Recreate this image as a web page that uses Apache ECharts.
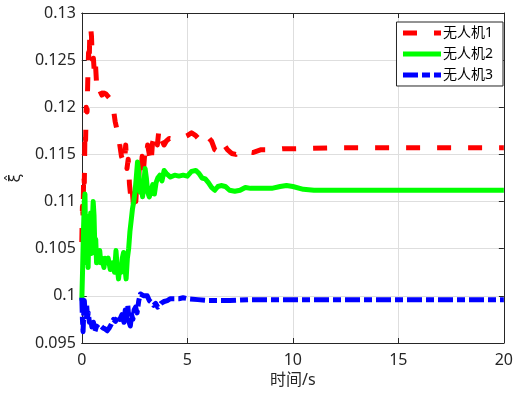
<!DOCTYPE html>
<html>
<head>
<meta charset="utf-8">
<script src="https://cdn.jsdelivr.net/npm/echarts@6/dist/echarts.min.js"></script>
<style>
  html, body { margin: 0; padding: 0; background: #fff; }
  #main { width: 516px; height: 396px; }
</style>
</head>
<body>
<div id="main"></div>
<script>
// 时间轴 / 各无人机的估计值（读图得到）
var names = ['无人机1', '无人机2', '无人机3'];
var colors = ['#ff0000', '#00ff00', '#0000ff'];
var xTicks = [0, 5, 10, 15, 20];

var t1 = [0, 0.03, 0.06, 0.09, 0.12, 0.15, 0.18, 0.21, 0.25, 0.29, 0.32, 0.35, 0.38, 0.42, 0.46, 0.5, 0.55, 0.6, 0.65, 0.7,
  0.75, 0.85, 0.95, 1.05, 1.15, 1.3, 1.4, 1.5, 1.58, 1.65, 1.72, 1.8, 1.88, 1.95, 2.02, 2.08, 2.14, 2.2, 2.26, 2.32,
  2.38, 2.44, 2.5, 2.56, 2.62, 2.68, 2.74, 2.8, 2.86, 2.92, 2.98, 3.05, 3.12, 3.2, 3.28, 3.35, 3.42, 3.5, 3.58, 3.66,
  3.74, 3.82, 3.9, 4, 4.15, 4.35, 4.55, 4.8, 5, 5.2, 5.4, 5.6, 5.8, 6, 6.15, 6.3, 6.45, 6.6, 6.75, 6.9,
  7.1, 7.3, 7.5, 7.8, 8.1, 8.5, 9, 9.5, 10, 12, 15, 20];
var v1 = [0.1057, 0.1095, 0.1085, 0.1130, 0.1120, 0.1175, 0.1165, 0.1200, 0.1195, 0.1235, 0.1258, 0.1245, 0.1280, 0.1285, 0.1275, 0.1248, 0.1252, 0.1235, 0.1245, 0.1225,
  0.1215, 0.1218, 0.1213, 0.1215, 0.1214, 0.1210, 0.1205, 0.1198, 0.1185, 0.1178, 0.1175, 0.1160, 0.1148, 0.1150, 0.1140, 0.1160, 0.1135, 0.1145, 0.1118, 0.1105,
  0.1115, 0.1098, 0.1110, 0.1100, 0.1125, 0.1120, 0.1140, 0.1130, 0.1148, 0.1132, 0.1150, 0.1145, 0.1160, 0.1150, 0.1140, 0.1162, 0.1168, 0.1172, 0.1160, 0.1177,
  0.1167, 0.1165, 0.1160, 0.1164, 0.1167, 0.1166, 0.1168, 0.1168, 0.1170, 0.1173, 0.1170, 0.1165, 0.1162, 0.1168, 0.1164, 0.1155, 0.1153, 0.1162, 0.1160, 0.1155,
  0.1151, 0.1150, 0.1154, 0.1153, 0.1152, 0.1155, 0.1155, 0.1156, 0.1156, 0.1157, 0.1157, 0.1157];

var t2 = [0, 0.04, 0.08, 0.12, 0.15, 0.18, 0.21, 0.24, 0.27, 0.3, 0.34, 0.38, 0.42, 0.46, 0.5, 0.54, 0.58, 0.62, 0.66, 0.7,
  0.75, 0.8, 0.85, 0.9, 0.95, 1, 1.05, 1.1, 1.15, 1.25, 1.35, 1.45, 1.55, 1.62, 1.68, 1.74, 1.8, 1.86, 1.92, 1.98,
  2.04, 2.1, 2.16, 2.22, 2.28, 2.34, 2.4, 2.46, 2.52, 2.58, 2.64, 2.7, 2.76, 2.82, 2.88, 2.94, 3, 3.06, 3.12, 3.2,
  3.28, 3.36, 3.44, 3.52, 3.6, 3.7, 3.8, 3.9, 4, 4.2, 4.4, 4.6, 4.8, 5, 5.2, 5.4, 5.55, 5.7, 5.85, 6,
  6.15, 6.3, 6.45, 6.6, 6.8, 7, 7.25, 7.5, 7.75, 8, 8.5, 9, 9.4, 9.7, 10, 10.5, 11, 12, 15, 20];
var v2 = [0.0995, 0.1030, 0.1070, 0.1100, 0.1108, 0.1060, 0.1085, 0.1035, 0.1060, 0.1030, 0.1075, 0.1050, 0.1088, 0.1045, 0.1080, 0.1100, 0.1085, 0.1050, 0.1060, 0.1035,
  0.1045, 0.1040, 0.1048, 0.1035, 0.1040, 0.1038, 0.1030, 0.1040, 0.1035, 0.1040, 0.1028, 0.1035, 0.1025, 0.1048, 0.1030, 0.1018, 0.1030, 0.1025, 0.1040, 0.1046,
  0.1030, 0.1018, 0.1040, 0.1050, 0.1068, 0.1080, 0.1092, 0.1100, 0.1110, 0.1125, 0.1142, 0.1130, 0.1110, 0.1118, 0.1105, 0.1120, 0.1135, 0.1125, 0.1110, 0.1105,
  0.1112, 0.1118, 0.1108, 0.1120, 0.1125, 0.1128, 0.1122, 0.1133, 0.1130, 0.1126, 0.1128, 0.1127, 0.1128, 0.1127, 0.1132, 0.1133, 0.1130, 0.1125, 0.1124, 0.1120,
  0.1115, 0.1112, 0.1116, 0.1117, 0.1116, 0.1112, 0.1111, 0.1112, 0.1115, 0.1114, 0.1114, 0.1114, 0.1116, 0.1117, 0.1116, 0.1113, 0.1112, 0.1112, 0.1112, 0.1112];

var t3 = [0, 0.03, 0.06, 0.09, 0.12, 0.15, 0.19, 0.23, 0.27, 0.31, 0.36, 0.42, 0.48, 0.55, 0.62, 0.7, 0.8, 0.9, 1, 1.1,
  1.2, 1.3, 1.4, 1.5, 1.6, 1.7, 1.8, 1.9, 2, 2.06, 2.12, 2.18, 2.24, 2.3, 2.36, 2.42, 2.48, 2.55, 2.62, 2.7,
  2.78, 2.86, 2.94, 3.02, 3.1, 3.2, 3.3, 3.4, 3.5, 3.6, 3.75, 3.9, 4.05, 4.2, 4.4, 4.6, 4.8, 5, 5.5, 6,
  7, 8, 10, 20];
var v3 = [0.0998, 0.0975, 0.0962, 0.0980, 0.0995, 0.0985, 0.0978, 0.0990, 0.0978, 0.0982, 0.0972, 0.0975, 0.0967, 0.0972, 0.0962, 0.0968, 0.0966, 0.0968, 0.0966, 0.0965,
  0.0963, 0.0966, 0.0970, 0.0975, 0.0973, 0.0978, 0.0975, 0.0980, 0.0972, 0.0985, 0.0975, 0.0990, 0.0972, 0.0968, 0.0980, 0.0975, 0.0985, 0.0988, 0.0982, 0.0995,
  0.1002, 0.1001, 0.1000, 0.0998, 0.1000, 0.0995, 0.0993, 0.0990, 0.0992, 0.0988, 0.0992, 0.0994, 0.0995, 0.0997, 0.0997, 0.0997, 0.0998, 0.0997, 0.0996, 0.0995,
  0.0995, 0.0996, 0.0996, 0.0996];

function pairs(t, v) {
    var d = [];
    for (var i = 0; i < t.length; i++) {
        d.push([t[i], v[i]]);
    }
    return d;
}

var dashes = [[14, 17], 'solid', [15, 4, 8, 4]];
var allData = [pairs(t1, v1), pairs(t2, v2), pairs(t3, v3)];

var series = [];
var legendData = [];
for (var k = 0; k < 3; k++) {
    series.push({
        name: names[k],
        type: 'line',
        symbol: 'none',
        data: allData[k],
        color: colors[k],
        lineStyle: {width: 5, type: dashes[k], color: colors[k], join: 'round'}
    });
    // 图例只画线，不画圆点
    legendData.push({
        name: names[k],
        itemStyle: {color: 'rgba(0,0,0,0)', borderWidth: 0, opacity: 0},
        lineStyle: {width: 5, type: dashes[k], color: colors[k]}
    });
}

var axisCol = '#262626';
var fontF = 'Noto Sans, Noto Sans CJK SC, sans-serif';

var myChart = echarts.init(document.getElementById('main'));
var option = {
    animation: false,
    textStyle: {fontFamily: fontF},
    grid: {left: 80, right: 9, top: 13, bottom: 53},
    legend: {
        orient: 'vertical',
        right: 13,
        top: 22,
        data: legendData,
        itemWidth: 38,
        itemHeight: 14,
        itemGap: 7,
        padding: [4, 10, 4, 4],
        backgroundColor: '#fff',
        borderColor: axisCol,
        borderWidth: 1,
        borderRadius: 0,
        textStyle: {fontSize: 14, color: '#000', fontFamily: fontF, padding: [0, 0, 0, -3]}
    },
    xAxis: [{
        type: 'value',
        min: 0, max: 20, interval: 5,
        name: '时间/s',
        nameLocation: 'middle',
        nameGap: 26,
        nameTextStyle: {fontSize: 16, color: axisCol, fontFamily: fontF},
        axisLine: {show: true, onZero: false, lineStyle: {color: axisCol}},
        axisTick: {show: true, inside: true, length: 5, lineStyle: {color: axisCol}},
        axisLabel: {fontSize: 16, color: axisCol, margin: 9,
            formatter: function (v) { return xTicks.indexOf(v) >= 0 ? String(v) : ''; }},
        splitLine: {show: true, lineStyle: {color: '#dedede'}}
    }, {
        type: 'value',
        position: 'top',
        min: 0, max: 20, interval: 5,
        axisLine: {show: true, onZero: false, lineStyle: {color: axisCol}},
        axisTick: {show: true, inside: true, length: 5, lineStyle: {color: axisCol}},
        axisLabel: {show: false},
        splitLine: {show: false}
    }],
    yAxis: [{
        type: 'value',
        min: 0.095, max: 0.13, interval: 0.005,
        name: 'ξ̂',
        nameLocation: 'middle',
        nameRotate: 90,
        nameGap: 48,
        nameTextStyle: {fontSize: 16, color: axisCol, fontFamily: 'DejaVu Sans'},
        axisLine: {show: true, onZero: false, lineStyle: {color: axisCol}},
        axisTick: {show: true, inside: true, length: 5, lineStyle: {color: axisCol}},
        axisLabel: {fontSize: 16, color: axisCol, margin: 6,
            formatter: function (v) { return String(Math.round(v * 1000) / 1000); }},
        splitLine: {show: true, lineStyle: {color: '#dedede'}}
    }, {
        type: 'value',
        position: 'right',
        min: 0.095, max: 0.13, interval: 0.005,
        axisLine: {show: true, onZero: false, lineStyle: {color: axisCol}},
        axisTick: {show: true, inside: true, length: 5, lineStyle: {color: axisCol}},
        axisLabel: {show: false},
        splitLine: {show: false}
    }],
    series: series
};

myChart.setOption(option);
</script>
</body>
</html>
